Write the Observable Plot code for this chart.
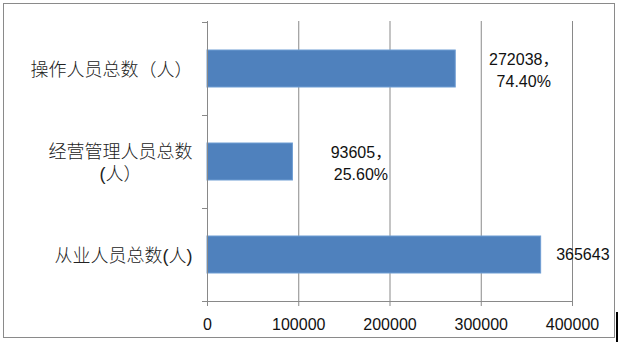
<!DOCTYPE html>
<html>
<head>
<meta charset="utf-8">
<script src="https://cdn.jsdelivr.net/npm/d3@7"></script>
<script src="https://cdn.jsdelivr.net/npm/@observablehq/plot@0.6"></script>
<style>
  html, body { margin: 0; padding: 0; background: #fff; }
  #wrap { position: relative; width: 619px; height: 342px; overflow: hidden; }
  #border { position: absolute; left: 3px; top: 3px; width: 612px; height: 335px; box-sizing: border-box; border: 1px solid #8a8a8a; pointer-events: none; }
  #mark { position: absolute; left: 616px; top: 312px; width: 2px; height: 30px; background: #000; }
  #chart { position: absolute; left: 0; top: 0; }
</style>
</head>
<body>
<div id="wrap">
  <div id="chart"></div>
  <div id="border"></div>
  <div id="mark"></div>
</div>
<script>
const categories = ["操作人员总数（人）", "经营管理人员总数\n(人）", "从业人员总数(人)"];
const values = [272038, 93605, 365643];
const valueLabels = ["272038，\n74.40%", "93605，\n25.60%", "365643"];
const xTicks = [0, 100000, 200000, 300000, 400000];

const data = categories.map((c, i) => ({category: c, value: values[i], label: valueLabels[i]}));
const multi = data.filter(d => d.label.includes("\n"));
const single = data.filter(d => !d.label.includes("\n"));

const gray = "#898989";
const font = "'Liberation Sans', Arial, 'Noto Sans CJK SC', sans-serif";

const chart = Plot.plot({
  width: 619,
  height: 342,
  marginLeft: 207,
  marginRight: 47,
  marginTop: 21,
  marginBottom: 40,
  style: {fontFamily: font, fontSize: "16px", color: "#111", background: "transparent", overflow: "visible"},
  x: {domain: [0, 400000], ticks: xTicks, tickFormat: d3.format("d"), tickSize: 4, tickPadding: 12, label: null},
  y: {domain: categories, padding: 0, axis: null},
  marks: [
    Plot.ruleX(xTicks, {stroke: gray, strokeWidth: 1}),
    Plot.barX(data, {x: "value", y: "category", fill: "#4F81BD", stroke: "#6F9DD3", strokeWidth: 1, insetTop: 28, insetBottom: 28}),
    Plot.ruleX([0], {stroke: gray, strokeWidth: 1}),
    Plot.text(data, {y: "category", text: "category", frameAnchor: "left", textAnchor: "end", dx: -15, fontSize: 18, fontWeight: 300, lineHeight: 1.22, fill: "#222", className: "cat-labels"}),
    Plot.text(multi, {x: "value", y: "category", text: "label", textAnchor: "middle", dx: 68, lineHeight: 1.375, fill: "#111"}),
    Plot.text(single, {x: "value", y: "category", text: "label", textAnchor: "start", dx: 15, fill: "#111"})
  ]
});

document.getElementById("chart").appendChild(chart);

const svg = d3.select(chart);
svg.selectAll("g[aria-label^='x-axis'] path, g[aria-label^='x-axis'] line").attr("stroke", gray);

const xs = chart.scale("x");
const ys = chart.scale("y");
const x0 = xs.apply(0);
const x1 = xs.apply(400000);
const bounds = categories.map(c => ys.apply(c));
bounds.push(ys.apply(categories[categories.length - 1]) + ys.step);
const g = svg.append("g").attr("stroke", gray).attr("stroke-width", 1);
bounds.forEach((b, i) => {
  const yb = Math.round(b) + 0.5;
  g.append("line").attr("x1", x0 - 5).attr("x2", i === bounds.length - 1 ? x1 : x0).attr("y1", yb).attr("y2", yb);
});

svg.selectAll("g.cat-labels text").each(function() {
  const tspans = this.querySelectorAll("tspan");
  if (tspans.length > 1) {
    let w = 0;
    tspans.forEach(t => { w = Math.max(w, t.getComputedTextLength()); });
    this.setAttribute("text-anchor", "middle");
    const tr = this.getAttribute("transform") || "";
    this.setAttribute("transform", tr + ` translate(${-w / 2},0)`);
  }
});
</script>
</body>
</html>
